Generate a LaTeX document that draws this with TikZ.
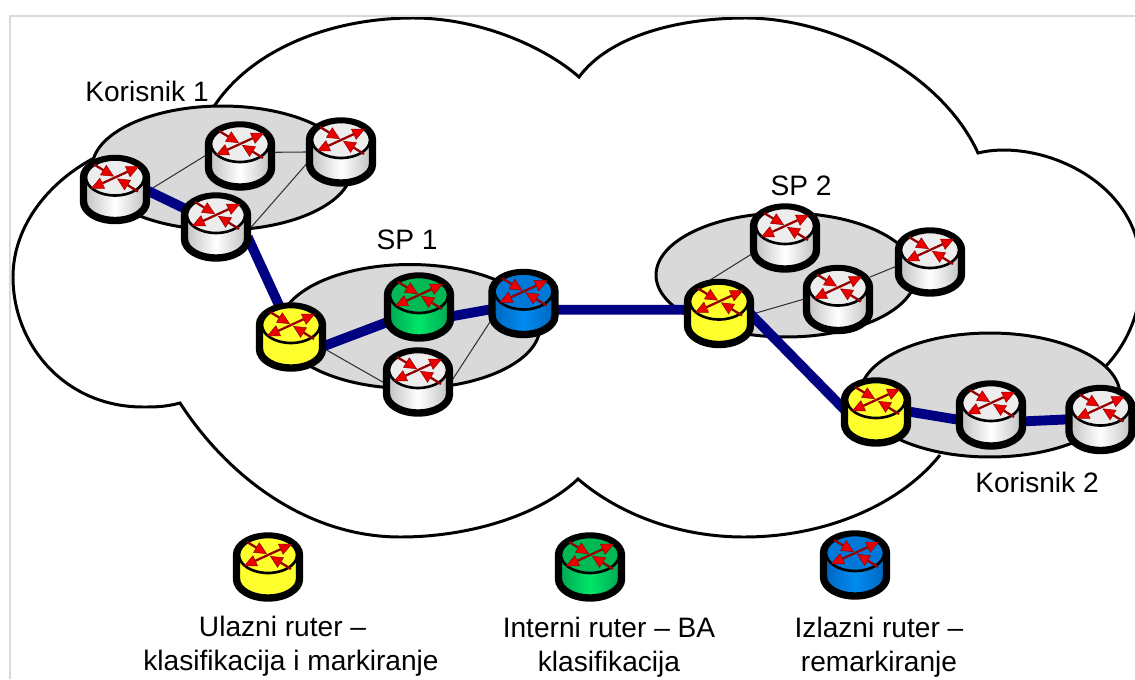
\documentclass[tikz,border=0pt]{standalone}
\usepackage{fontspec}
\setmainfont{Liberation Sans}
\usetikzlibrary{arrows.meta,shapes.geometric,backgrounds}
\definecolor{linkblue}{RGB}{0,0,130}
\definecolor{langray}{gray}{0.85}
\definecolor{framegray}{gray}{0.85}
\definecolor{arrowred}{RGB}{150,0,0}
\definecolor{headred}{RGB}{235,0,0}
\definecolor{ryellow}{RGB}{255,255,45}
\definecolor{rgreentop}{RGB}{0,185,85}
\definecolor{rgreenedge}{RGB}{0,165,80}
\definecolor{rgreenmid}{RGB}{0,230,105}
\definecolor{rbluetop}{RGB}{0,120,215}
\definecolor{rblueedge}{RGB}{0,100,190}
\definecolor{rbluemid}{RGB}{0,140,240}
\tikzset{
  lbl/.style={font=\fontsize{16}{19.6}\selectfont, align=center, inner sep=0pt},
  routerbox/.style={minimum width=1.4cm, minimum height=1.38cm, inner sep=0pt},
  lan/.style={ellipse, draw=black, line width=1.7pt, fill=langray, minimum width=5.2cm, minimum height=2.48cm, inner sep=0pt},
  thinlink/.style={draw=black!80, line width=0.6pt, shorten <=-2pt, shorten >=-2pt},
  thicklink/.style={draw=linkblue, line width=5.6pt, shorten <=-5pt, shorten >=-5pt},
  routerarrow/.style={draw=arrowred, line width=1.3pt, -{Triangle[length=7.2pt,width=6.8pt,fill=headred,line width=0.3pt]}},
  pics/routericon/.style n args={3}{code={
    \draw[line width=4.2pt, left color=#2, right color=#2, middle color=#3]
      (-31.5,-12) arc[start angle=180,end angle=0,x radius=.63cm,y radius=.38cm]
      -- (31.5,12) arc[start angle=0,end angle=-180,x radius=.63cm,y radius=.38cm] -- cycle;
    \draw[line width=1.5pt, fill=#1] (0,-12) ellipse[x radius=.58cm,y radius=.36cm];
    \draw[routerarrow] (0,-12) -- (24,-23);
    \draw[routerarrow] (0,-12) -- (-24,-1);
    \draw[routerarrow] (-21,-25) -- (-1,-13);
    \draw[routerarrow] (23,2) -- (2,-11);
  }},
}
\begin{document}
\begin{tikzpicture}[x=0.02cm,y=-0.02cm]
\useasboundingbox (0,0) rectangle (1135,679);
\draw[framegray, line width=1.7pt] (1135,16) -- (10,16) -- (10,679);

% routers, white ones first
\foreach \n/\p in {k1a/{115,189.5},k1b/{240,156},k1c/{341,152},k1d/{216,227},
                   sp1w/{418,382},sp2t/{785,238},sp2m/{838,299.5},sp2r/{930,262},
                   k2w/{991,415},k2r/{1100.5,419.5}}
{
  \node[routerbox] (\n) at (\p) {};
  \pic at (\p) {routericon={black!7}{black!25}{white}};
}
\foreach \n/\p in {sp1y/{291,337},sp2y/{719,313.5},k2y/{876,412},lega/{268,567}}
{
  \node[routerbox] (\n) at (\p) {};
  \pic at (\p) {routericon={ryellow}{ryellow}{ryellow}};
}
\foreach \n/\p in {sp1g/{419,307},legb/{590,567}}
{
  \node[routerbox] (\n) at (\p) {};
  \pic at (\p) {routericon={rgreentop}{rgreenedge}{rgreenmid}};
}
\foreach \n/\p in {sp1b/{523.5,303.5},legc/{855,565}}
{
  \node[routerbox] (\n) at (\p) {};
  \pic at (\p) {routericon={rbluetop}{rblueedge}{rbluemid}};
}

\begin{pgfonlayer}{background}
% cloud
\draw[black, line width=1.7pt] (213,108) .. controls (250,50) and (330,18) .. (413,18)
  .. controls (480,18) and (545,47) .. (579,77)
  .. controls (610,35) and (680,18) .. (746,18)
  .. controls (830,18) and (940,70) .. (978,153)
  .. controls (1030,140) and (1115,170) .. (1136,237)
  .. controls (1146,270) and (1145,325) .. (1105,367);
\draw[black, line width=1.7pt] (940,455) .. controls (900,505) and (825,537) .. (744,537)
  .. controls (680,537) and (620,515) .. (578,479)
  .. controls (540,515) and (470,537) .. (400,537)
  .. controls (310,537) and (230,480) .. (180,403)
  .. controls (165,407) and (155,407) .. (143,407)
  .. controls (65,407) and (13,345) .. (13,277)
  .. controls (13,225) and (50,180) .. (98,156);

\node[lan] (lank1) at (222,168) {};
\node[lan] (lansp1) at (410,326.5) {};
\node[lan] (lansp2) at (786,275) {};
\node[lan] (lank2) at (990,395) {};

\foreach \i/\j in {k1a.east/k1b.west,k1b.6/k1c.west,k1d.east/k1c.200,
                   sp1y.-20/sp1w.west,sp1w.6/sp1b.211,
                   sp2y.101/sp2t.206,sp2y.east/sp2m.west,sp2m.34/sp2r.188}
{
  \draw[thinlink] (\i) to (\j);
}
\foreach \i/\j in {k1a.-4/k1d.150,k1d.-27/sp1y.111,sp1y.-13/sp1g.205,sp1g.-14/sp1b.190,
                   sp1b.-10/sp2y.174,sp2y.-7/k2y.170,k2y.east/k2w.187,k2w.-10/k2r.west}
{
  \draw[thicklink] (\i) to (\j);
}
\end{pgfonlayer}

\node[lbl] (tk1) at (147,91) {Korisnik 1};
\node[lbl] (tsp1) at (407,240) {SP 1};
\node[lbl] (tsp2) at (801,186) {SP 2};
\node[lbl] (tk2) at (1037,482) {Korisnik 2};
\node[lbl] (tlega) at (291,646) {Ulazni ruter --\hspace*{0.6em}\\klasifikacija i markiranje};
\node[lbl] (tlegb) at (609,647) {Interni ruter -- BA\\klasifikacija};
\node[lbl] (tlegc) at (879,647) {Izlazni ruter --\\remarkiranje};
\end{tikzpicture}
\end{document}
